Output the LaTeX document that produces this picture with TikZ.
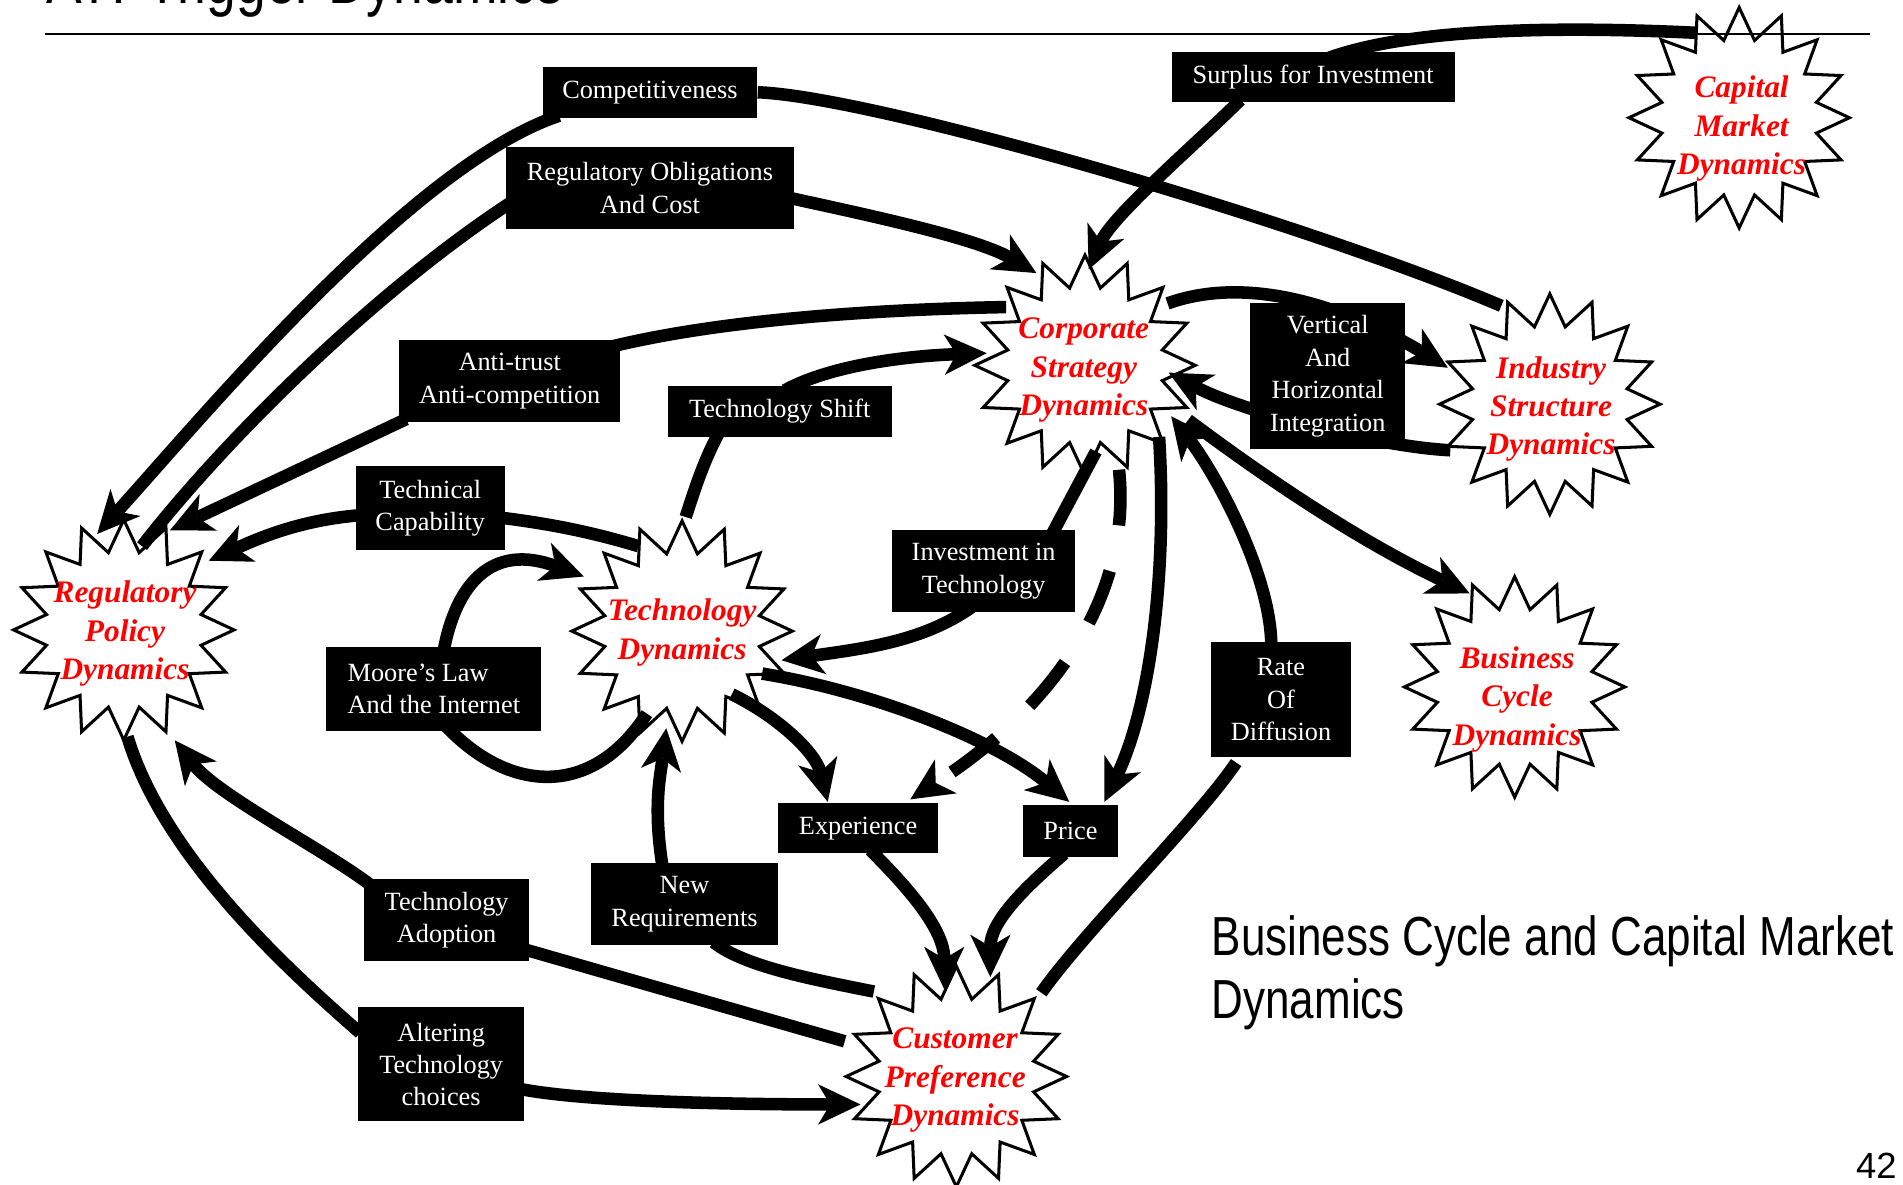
\documentclass[tikz,border=0pt]{standalone}
\usepackage{fontspec}
\setmainfont{Liberation Serif}
\newfontfamily\narrowsans[FakeStretch=0.8]{Liberation Sans}
\newfontfamily\plainsans{Liberation Sans}
\usetikzlibrary{shapes.geometric,arrows.meta,calc}
\pgfdeclarelayer{backdrop}
\pgfdeclarelayer{wires}
\pgfsetlayers{backdrop,wires,main}

\begin{document}
\begin{tikzpicture}[x=0.6pt,y=-0.6pt,
  burst/.style={star, star points=16, star point ratio=1.4, minimum size=109pt,
    inner sep=0pt, draw=black, line width=1.5pt, fill=white},
  burstlabel/.style={text=red, align=center, inner sep=0pt,
    font=\fontsize{15.5}{19}\selectfont\bfseries\itshape},
  tag/.style={fill=black, text=white, align=center, inner sep=0pt,
    font=\fontsize{13}{16}\selectfont},
  link/.style={line width=6.2pt},
  head/.style={-{Stealth[length=21pt,width=20pt,inset=6pt,line width=0pt]}},
]
\useasboundingbox (0,0) rectangle (1568,976);

% ---------- starbursts ----------
\begin{pgfonlayer}{backdrop}
\fill[white] (0,0) rectangle (1568,976);
\node[burst] (cap)  at (1433,97)  {};
\node[burst] (corp) at (894,301)  {};
\node[burst] (ind)  at (1277,333) {};
\node[burst] (bus)  at (1248,566) {};
\node[burst] (tech) at (562,520)  {};
\node[burst] (reg)  at (102,519)  {};
\node[burst] (cust) at (788,887)  {};
\end{pgfonlayer}

\node[burstlabel] (capT)  at (1435,106) {Capital\\Market\\Dynamics};
\node[burstlabel] (corpT) at (893,305)  {Corporate\\Strategy\\Dynamics};
\node[burstlabel] (indT)  at (1278,337) {Industry\\Structure\\Dynamics};
\node[burstlabel] (busT)  at (1250,576) {Business\\Cycle\\Dynamics};
\node[burstlabel] (techT) at (562,521)  {Technology\\Dynamics};
\node[burstlabel] (regT)  at (103,522)  {Regulatory\\Policy\\Dynamics};
\node[burstlabel] (custT) at (787,890)  {Customer\\Preference\\Dynamics};

% ---------- black labels ----------
\node[tag, minimum width=106.2pt, minimum height=25.2pt] (comp)    at (535.5,76)   {Competitiveness};
\node[tag, minimum width=139.8pt, minimum height=24.6pt] (surplus) at (1082,63.5)  {Surplus for Investment};
\node[tag, minimum width=142.2pt, minimum height=40.8pt] (oblig)   at (535.5,155)  {Regulatory Obligations\\And Cost};
\node[tag, minimum width=109.2pt, minimum height=40.8pt] (anti)    at (420,314)    {Anti-trust\\Anti-competition};
\node[tag, minimum width=111pt,   minimum height=25.2pt] (shift)   at (642.5,339)  {Technology Shift};
\node[tag, minimum width=76.8pt,  minimum height=72pt]   (vert)    at (1094,310)   {Vertical\\And\\Horizontal\\Integration};
\node[tag, minimum width=73.8pt,  minimum height=41.4pt] (capab)   at (354.5,418.5){Technical\\Capability};
\node[tag, minimum width=90.6pt,  minimum height=40.2pt] (invest)  at (810.5,470.5){Investment in\\Technology};
\node[tag, align=left, minimum width=106.2pt, minimum height=41.4pt] (moore) at (357.5,567.5) {Moore’s Law\\And the Internet};
\node[tag, minimum width=69pt,    minimum height=57pt]   (rate)    at (1055.5,576.5){Rate\\Of\\Diffusion};
\node[tag, minimum width=79.2pt,  minimum height=24.6pt] (exper)   at (707,682.5)  {Experience};
\node[tag, minimum width=46.8pt,  minimum height=25.8pt] (price)   at (882,684.5)  {Price};
\node[tag, minimum width=92.4pt,  minimum height=40.8pt] (newreq)  at (564,745)    {New\\Requirements};
\node[tag, minimum width=81.6pt,  minimum height=40.8pt] (adopt)   at (368,758)    {Technology\\Adoption};
\node[tag, minimum width=82.2pt,  minimum height=56.4pt] (alter)   at (363.5,877)  {Altering\\Technology\\choices};

% ---------- connectors ----------
\begin{pgfonlayer}{wires}
% competitiveness
\draw[link] ($(ind)+(-40,-81)$) .. controls +(-157,-67) and +(100,4) .. (comp.east);
\draw[link,head] ($(comp.south west)+(14,-2)$) .. controls +(-120,40) and +(90,-100) .. ($(reg)+(-22,-79)$);
% regulatory obligations and cost
\draw[link] ($(reg)+(15,-69)$) .. controls +(70,-90) and +(-110,72) .. ($(oblig.west)+(4,12)$);
\draw[link,head] ($(oblig.east)+(-4,8)$) .. controls +(64,14) and +(-50,-29) .. ($(corp)+(-40,-76)$);
% anti-trust
\draw[link] ($(corp)+(-65,-48)$) .. controls +(-110,2) and +(90,-22) .. ($(anti.north east)+(-8,6)$);
\draw[link,head] ($(anti.south west)+(6,-3)$) -- ($(reg)+(38,-82)$);
% technical capability
\draw[link] ($(tech)+(-36,-70)$) .. controls +(-40,-12) and +(40,5) .. ($(capab.east)+(-4,8)$);
\draw[link,head] ($(capab.west)+(4,6)$) .. controls +(-50,4) and +(40,-18) .. ($(reg)+(70,-57)$);
% technology shift
\draw[link] ($(tech)+(3,-94)$) .. controls +(8,-25) and +(-12,22) .. ($(shift.south)+(-50,-4)$);
\draw[link,head] ($(shift.north)+(4,4)$) .. controls +(40,-22) and +(-60,2) .. ($(corp)+(-81,-10)$);
% Moore's law loop
\draw[link] ($(tech)+(-29,68)$) .. controls +(-45,70) and +(52,55) .. ($(moore.south)+(10,-4)$);
\draw[link,head] ($(moore.north)+(8,4)$) .. controls +(10,-55) and +(-76,-28) .. ($(tech)+(-81,-45)$);
% investment in technology
\draw[link] ($(corp)+(9,71)$) -- ($(invest.north)+(56,4)$);
\draw[link,head] ($(invest.south)+(-10,-4)$) .. controls +(-40,28) and +(70,-10) .. ($(tech)+(82,24)$);
% corporate strategy to experience (dashed)
\draw[link,head,dash pattern=on 27.6pt off 23pt] ($(corp)+(28,86)$) .. controls +(10,93) and +(130,-84) .. ($(exper.north)+(43,-3)$);
% corporate strategy to price
\draw[link,head] ($(corp)+(61,59)$) .. controls +(7,110) and +(38,-80) .. ($(price.north)+(28,-2)$);
% rate of diffusion
\draw[link] ($(cust)+(70,-69)$) .. controls +(35,-50) and +(-30,45) .. ($(rate.south)+(-37,4)$);
\draw[link,head] ($(rate.north)+(-8,4)$) .. controls +(0,-60) and +(35,45) .. ($(corp)+(71,42)$);
% corporate strategy to business cycle
\draw[link,head] ($(corp)+(85,45)$) .. controls +(80,60) and +(-80,-38) .. ($(bus)+(-37,-77)$);
% vertical and horizontal integration
\draw[link,head] ($(corp)+(68,-51)$) .. controls +(78,-28) and +(-63,-38) .. ($(ind)+(-84,-30)$);
\draw[link,head] ($(ind)+(-82,38)$) .. controls +(-60,-3) and +(60,32) .. ($(corp)+(69,6)$);
% technology to experience and price
\draw[link,head] ($(tech)+(41,52)$) .. controls +(37,18) and +(-10,-41) .. ($(exper.north)+(-25,-1)$);
\draw[link,head] ($(tech)+(66,35)$) .. controls +(92,15) and +(-61,-51) .. ($(price.north)+(-1,-2)$);
% experience and price to customer preference
\draw[link,head] ($(exper.south)+(10,-3)$) .. controls +(30,30) and +(0,-50) .. ($(cust)+(-10,-72)$);
\draw[link,head] ($(price.south)+(-5,-3)$) .. controls +(-35,30) and +(0,-45) .. ($(cust)+(28,-82)$);
% new requirements
\draw[link] ($(cust)+(-68,-70)$) .. controls +(-50,-10) and +(25,20) .. ($(newreq.south)+(24,-3)$);
\draw[link,head] ($(newreq.north)+(-18,4)$) .. controls +(-8,-50) and +(-5,40) .. ($(tech)+(-13,80)$);
% technology adoption
\draw[link] ($(cust)+(-92,-29)$) -- ($(adopt.east)+(-5,24)$);
\draw[link,head] ($(adopt.north west)+(5,5)$) .. controls +(-40,-30) and +(35,45) .. ($(reg)+(42,91)$);
% altering technology choices
\draw[link] ($(reg)+(3,88)$) .. controls +(30,100) and +(-57,-50) .. ($(alter.west)+(2,-26)$);
\draw[link,head] ($(alter.east)+(-5,20)$) .. controls +(60,12) and +(-80,0) .. ($(cust)+(-79,23)$);
% surplus for investment
\draw[link] ($(cap)+(-36,-70)$) .. controls +(-147,-7) and +(55,-20) .. ($(surplus.north)+(13,5)$);
\draw[link,head] ($(surplus.south)+(-60,-2)$) .. controls +(-35,35) and +(20,-45) .. ($(corp)+(3,-79)$);
\end{pgfonlayer}

% ---------- heading, rule, caption ----------
\node[anchor=base west, inner sep=0pt, font=\narrowsans\fontsize{33}{40}\selectfont] (title) at (38,3) {A7. Trigger Dynamics};
\draw[line width=1.3pt] (37,28) -- (1541,28);
\node[anchor=base west, inner sep=0pt, font=\narrowsans\fontsize{27.2}{31.3}\selectfont] (sub1) at (998,787) {Business Cycle and Capital Market};
\node[anchor=base west, inner sep=0pt, font=\narrowsans\fontsize{27.2}{31.3}\selectfont] (sub2) at (998,839) {Dynamics};
\node[anchor=base east, inner sep=0pt, font=\plainsans\fontsize{18}{20}\selectfont] (pageno) at (1563,971) {42};
\end{tikzpicture}
\end{document}
